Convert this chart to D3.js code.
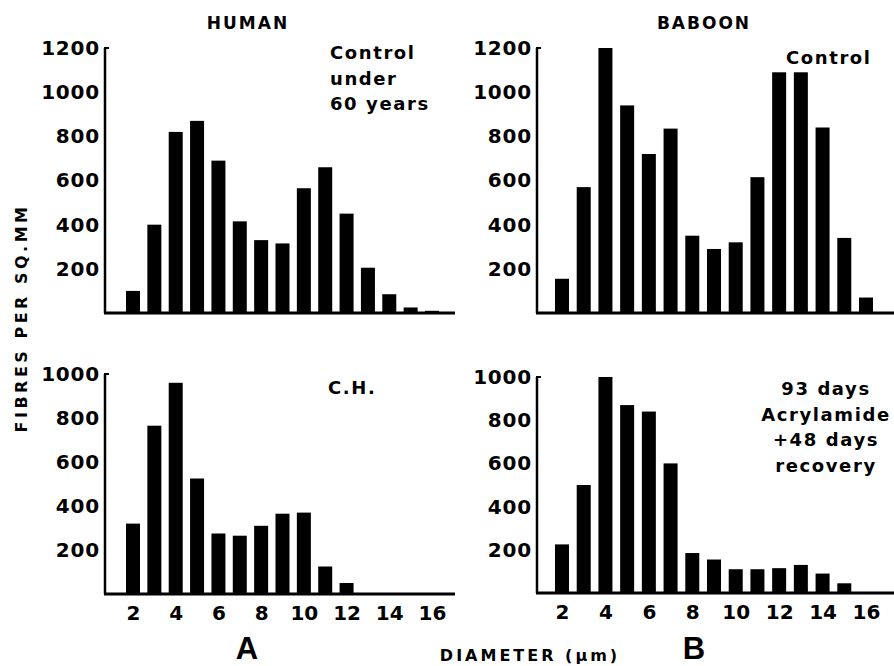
<!DOCTYPE html>
<html>
<head>
<meta charset="utf-8">
<script src="https://cdn.jsdelivr.net/npm/d3@7"></script>
<style>
  html, body { margin: 0; padding: 0; background: #fff; }
  svg { display: block; }
  text { font-family: "DejaVu Sans", sans-serif; font-weight: bold; fill: #000; }
</style>
</head>
<body>
<svg id="chart" width="894" height="666"></svg>
<script>
// ---- data ----
const diameters = [2, 3, 4, 5, 6, 7, 8, 9, 10, 11, 12, 13, 14, 15, 16];
const humanControl = [100, 400, 820, 870, 690, 415, 330, 315, 565, 660, 450, 205, 85, 25, 10];
const baboonControl = [155, 570, 1200, 940, 720, 835, 350, 290, 320, 615, 1090, 1090, 840, 340, 70];
const humanCH = [320, 765, 960, 525, 275, 265, 310, 365, 370, 125, 50, 0, 0, 0, 0];
const baboonAcryl = [225, 500, 1000, 870, 840, 600, 185, 155, 110, 110, 115, 130, 90, 45, 0];
const xTickValues = [2, 4, 6, 8, 10, 12, 14, 16];
const yTicksTop = [200, 400, 600, 800, 1000, 1200];
const yTicksBottom = [200, 400, 600, 800, 1000];

const svg = d3.select("#chart");

const panels = [
  { values: humanControl, xr: [133, 432], axisX: 105, baseEnd: 455, yr: [313, 48], ymax: 1200, ticks: yTicksTop,
    note: ["Control", "under", "60 years"], noteX: 330, noteY: 53, anchor: "start", xLabels: false },
  { values: baboonControl, xr: [562, 866], axisX: 537, baseEnd: 894, yr: [313, 48], ymax: 1200, ticks: yTicksTop,
    note: ["Control"], noteX: 786, noteY: 58, anchor: "start", xLabels: false },
  { values: humanCH, xr: [133, 432], axisX: 105, baseEnd: 455, yr: [594, 374], ymax: 1000, ticks: yTicksBottom,
    note: ["C.H."], noteX: 328, noteY: 388, anchor: "start", xLabels: true },
  { values: baboonAcryl, xr: [562, 866], axisX: 537, baseEnd: 894, yr: [593, 377], ymax: 1000, ticks: yTicksBottom,
    note: ["93 days", "Acrylamide", "+48 days", "recovery"], noteX: 826, noteY: 389, anchor: "middle", xLabels: true }
];

const barW = 14;

panels.forEach(p => {
  const x = d3.scaleLinear().domain([2, 16]).range(p.xr);
  const y = d3.scaleLinear().domain([0, p.ymax]).range(p.yr);
  const g = svg.append("g");

  // bars
  g.selectAll("rect.bar")
    .data(diameters.map((d, i) => ({ d, v: p.values[i] })).filter(o => o.v > 0))
    .enter().append("rect")
    .attr("class", "bar")
    .attr("x", o => x(o.d) - barW / 2)
    .attr("width", barW)
    .attr("y", o => y(o.v))
    .attr("height", o => y(0) - y(o.v))
    .attr("fill", "#000");

  // y axis (labels via d3 axis, custom line)
  const yAxis = d3.axisLeft(y).tickValues(p.ticks).tickFormat(d3.format("d")).tickSize(0).tickPadding(5);
  const ga = g.append("g").attr("transform", `translate(${p.axisX},0)`).call(yAxis);
  ga.select(".domain").remove();
  ga.selectAll("text")
    .style("font-family", "'DejaVu Sans', sans-serif")
    .style("font-weight", "bold")
    .style("font-size", "20px")
    .style("letter-spacing", "0.8px")
    .attr("fill", "#000");

  g.append("line")
    .attr("x1", p.axisX).attr("x2", p.axisX)
    .attr("y1", y(0)).attr("y2", y(p.ymax))
    .attr("stroke", "#000").attr("stroke-width", 2.5);
  g.append("line")
    .attr("x1", p.axisX - 1).attr("x2", p.axisX + 4)
    .attr("y1", y(p.ymax)).attr("y2", y(p.ymax))
    .attr("stroke", "#000").attr("stroke-width", 2);

  // baseline
  g.append("line")
    .attr("x1", p.axisX - 1).attr("x2", p.baseEnd)
    .attr("y1", y(0)).attr("y2", y(0))
    .attr("stroke", "#000").attr("stroke-width", 3);

  // x axis labels
  if (p.xLabels) {
    const xAxis = d3.axisBottom(x).tickValues(xTickValues).tickSize(0).tickPadding(12);
    const gx = g.append("g").attr("transform", `translate(0,${y(0)})`).call(xAxis);
    gx.select(".domain").remove();
    gx.selectAll("text")
      .style("font-family", "'DejaVu Sans', sans-serif")
      .style("font-weight", "bold")
      .style("font-size", "20px")
      .attr("fill", "#000");
  }

  // annotation
  p.note.forEach((t, i) => {
    g.append("text")
      .attr("x", p.noteX)
      .attr("y", p.noteY + i * 25.5)
      .attr("dy", "0.36em")
      .attr("text-anchor", p.anchor)
      .style("font-size", "18px")
      .style("letter-spacing", "1.6px")
      .text(t);
  });
});

// titles
svg.append("text").attr("x", 248).attr("y", 23).attr("dy", "0.36em").attr("text-anchor", "middle")
  .style("font-size", "17px").style("letter-spacing", "2px").text("HUMAN");
svg.append("text").attr("x", 704).attr("y", 23).attr("dy", "0.36em").attr("text-anchor", "middle")
  .style("font-size", "17px").style("letter-spacing", "2px").text("BABOON");

// y axis title
svg.append("text")
  .attr("transform", "translate(21,318) rotate(-90)")
  .attr("dy", "0.36em")
  .attr("text-anchor", "middle")
  .style("font-size", "16px")
  .style("letter-spacing", "3.5px")
  .text("FIBRES PER SQ.MM");

// x axis title
svg.append("text").attr("x", 530).attr("y", 655).attr("dy", "0.36em").attr("text-anchor", "middle")
  .style("font-size", "16px").style("letter-spacing", "3px").text("DIAMETER (μm)");

// panel letters
svg.append("text").attr("x", 247).attr("y", 659).attr("text-anchor", "middle")
  .style("font-family", "'Liberation Sans', sans-serif").style("font-size", "31px").text("A");
svg.append("text").attr("x", 694).attr("y", 659).attr("text-anchor", "middle")
  .style("font-family", "'Liberation Sans', sans-serif").style("font-size", "31px").text("B");
</script>
</body>
</html>
